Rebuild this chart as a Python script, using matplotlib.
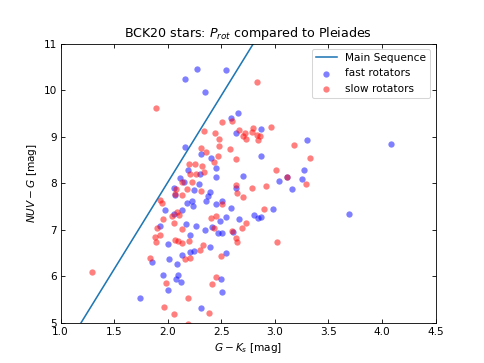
import matplotlib
matplotlib.use("Agg")
import matplotlib.pyplot as plt

# Main sequence line endpoints
ms_x = [1.19, 2.80]
ms_y = [5.0, 11.0]

# fast rotators (G-Ks, NUV-G)
fast_x = [2.165, 2.277, 2.54, 2.345, 2.657, 2.59, 2.64, 2.87, 2.158, 3.30, 2.87, 3.27,
          4.08, 3.11, 3.04, 3.25, 3.16, 2.98, 3.69, 2.87, 2.31, 2.405, 2.186, 2.305,
          2.455, 2.455, 2.70, 2.115, 2.155, 2.29, 2.055, 2.25, 2.395, 2.64, 2.07, 2.38,
          2.18, 2.23, 2.24, 2.355, 2.45, 2.51, 2.595, 1.978, 2.055, 2.13, 2.17, 2.265,
          2.35, 2.485, 2.54, 2.667, 2.81, 2.84, 1.925, 2.205, 2.47, 2.51, 2.0,
          2.25, 2.21, 2.395, 2.137, 2.087, 2.015, 1.853, 2.54, 1.96, 2.096, 2.08, 2.125,
          2.50, 2.51, 2.003, 1.744, 2.314, 2.61, 2.41]
fast_y = [10.24, 10.45, 10.43, 9.97, 9.52, 9.41, 9.09, 9.16, 8.77, 8.94, 8.59, 8.29,
          8.84, 8.14, 8.04, 8.09, 7.87, 7.45, 7.35, 7.27, 8.64, 8.54, 8.29, 8.20,
          8.33, 8.14, 8.16, 8.11, 8.03, 7.98, 7.89, 7.85, 7.82, 7.91, 7.75, 7.73,
          7.58, 7.62, 7.51, 7.62, 7.55, 7.62, 7.46, 7.43, 7.34, 7.43, 7.13, 7.08,
          7.00, 7.20, 7.28, 7.23, 7.32, 7.26, 7.08, 6.90, 6.93, 6.93, 6.70,
          6.55, 6.53, 6.63, 6.46, 6.27, 6.37, 6.32, 6.50, 6.03, 6.03, 5.94, 5.89,
          5.94, 5.67, 5.71, 5.53, 5.33, 6.95, 7.07]

# slow rotators
slow_x = [2.835, 1.893, 2.60, 2.51, 2.336, 2.44, 2.48, 2.476, 2.58, 2.31, 2.667, 2.72,
          2.70, 2.73, 2.80, 2.79, 2.835, 2.866, 2.84, 2.966, 3.18, 3.33, 3.01, 3.11,
          3.29, 2.92, 2.90, 3.02, 2.355, 2.436, 2.467, 2.64, 2.196, 2.258, 2.317, 2.21,
          2.26, 2.336, 2.13, 2.23, 2.08, 2.18, 2.31, 2.635, 2.65, 2.79, 2.07, 2.13,
          2.70, 1.925, 1.947, 2.51, 1.956, 2.04, 2.09, 2.11, 2.055, 2.137, 2.405, 2.45,
          2.73, 2.69, 1.90, 1.884, 1.93, 2.43, 2.60, 2.635, 2.65, 1.89, 2.07, 2.10,
          2.13, 2.195, 2.327, 2.30, 2.165, 2.205, 1.837, 2.50, 1.984, 2.45, 2.417, 2.19,
          1.97, 2.06, 2.39, 2.19, 1.29]
slow_y = [10.18, 9.61, 9.34, 9.32, 9.13, 9.09, 8.96, 8.81, 8.73, 8.75, 9.14, 9.09,
          9.02, 8.95, 9.18, 9.11, 9.04, 9.02, 8.93, 9.20, 8.82, 8.54, 8.29, 8.14,
          7.99, 7.94, 7.45, 6.74, 8.67, 8.46, 8.59, 8.52, 8.41, 8.41, 8.37, 8.20,
          8.21, 8.24, 8.02, 8.03, 7.88, 7.88, 7.83, 7.96, 7.80, 7.91, 7.76, 7.74,
          7.70, 7.64, 7.57, 7.55, 7.23, 7.30, 7.39, 7.32, 7.14, 7.01, 7.26, 7.30,
          7.15, 7.05, 7.05, 6.85, 6.89, 7.05, 6.98, 6.82, 6.73, 6.73, 6.78, 6.77,
          6.71, 6.77, 6.68, 6.57, 6.37, 6.39, 6.39, 6.45, 5.85, 5.98, 5.83, 5.53,
          5.34, 5.19, 5.22, 4.98, 6.10]

xticks = [1.0, 1.5, 2.0, 2.5, 3.0, 3.5, 4.0, 4.5]
yticks = [5, 6, 7, 8, 9, 10, 11]

fig = plt.figure(figsize=(6.4, 4.8), dpi=75.625)
ax = fig.add_subplot(111)
ax.plot(ms_x, ms_y, color='C0', label='Main Sequence')
ax.scatter(fast_x, fast_y, c='b', alpha=0.5, linewidths=0, label='fast rotators')
ax.scatter(slow_x, slow_y, c='r', alpha=0.5, linewidths=0, label='slow rotators')
ax.set_xlim(1.0, 4.5)
ax.set_ylim(5, 11)
ax.set_xticks(xticks)
ax.set_yticks(yticks)
ax.tick_params(direction='in', top=True, right=True)
ax.set_xlabel('$G-K_s$ [mag]')
ax.set_ylabel('$NUV-G$ [mag]')
ax.set_title('BCK20 stars: $P_{rot}$ compared to Pleiades')
ax.legend(loc='upper right')
fig.savefig('out.png', dpi=75.625)
